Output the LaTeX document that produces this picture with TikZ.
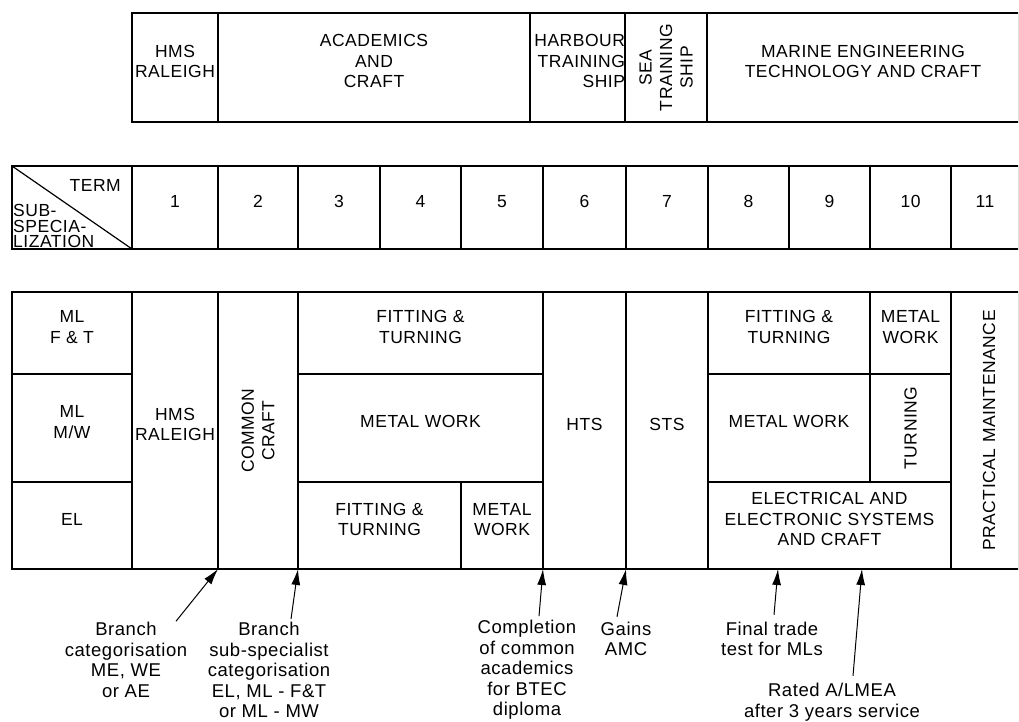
\documentclass[tikz,border=0pt]{standalone}
\usepackage{fontspec}
\setmainfont[LetterSpace=3]{Liberation Sans}
\usetikzlibrary{arrows.meta, fit}

\begin{document}
\begin{tikzpicture}[
    x=1pt, y=-1pt,
    cell/.style={rectangle, draw, line width=1.2pt, inner sep=0pt, outer sep=0pt, align=center, font=\fontsize{17.5}{20.5}\selectfont},
    upright/.style={rotate=90, inner sep=0pt, align=center, font=\fontsize{17.5}{20.5}\selectfont},
    note/.style={inner sep=0pt, align=center, font=\fontsize{18.5}{20.5}\selectfont},
    arrow/.style={-{Latex[length=16pt, width=9pt]}, line width=1pt}
]
    \useasboundingbox (0,0) rectangle (1019,722);
    \clip (0,0) rectangle (1018.2,722);

    % Phases
    \node[cell, fit={(132,13) (218,122)}] (raleigh) {HMS\\RALEIGH};
    \node[cell, fit={(218,13) (530,122)}] (academics) {ACADEMICS\\AND\\CRAFT};
    \node[cell, fit={(530,13) (625,122)}, align=right] (harbour) {HARBOUR\\TRAINING\\SHIP};
    \node[cell, fit={(625,13) (707,122)}] (seaship) {};
    \node[upright] (seatext) at (seaship.center) {SEA\\TRAINING\\SHIP};
    \node[cell, fit={(707,13) (1019,122)}] (marine) {MARINE ENGINEERING\\TECHNOLOGY AND CRAFT};

    % Terms
    \node[cell, fit={(12,166) (132,249)}] (corner) {};
    \draw[line width=1.2pt] (corner.north west) -- (corner.south east);
    \node[inner sep=0pt, anchor=east, font=\fontsize{17.5}{20.5}\selectfont] (termhead) at (121,185) {TERM};
    \node[inner sep=0pt, anchor=west, align=left, font=\fontsize{17.5}{15.5}\selectfont] (subhead) at (13,226) {SUB-\\SPECIA-\\LIZATION};
    \foreach \a/\b/\n in {132/218/1, 218/298/2, 298/380/3, 380/461/4, 461/543/5, 543/626/6,
                          626/708/7, 708/789/8, 789/870/9, 870/951/10, 951/1019/11}
        \node[cell, fit={(\a,166) (\b,249)}] (term\n) {\n};

    % Sub-specialization
    \node[cell, fit={(12,292) (132,374)}] (mlft) {ML\\F \& T};
    \node[cell, fit={(12,374) (132,482)}] (mlmw) {ML\\M/W};
    \node[cell, fit={(12,482) (132,569)}] (el) {EL};
    \node[cell, fit={(132,292) (218,569)}] (hms) {HMS\\RALEIGH};
    \node[cell, fit={(218,292) (298,569)}] (common) {};
    \node[upright] (commontext) at (common.center) {COMMON\\CRAFT};
    \node[cell, fit={(298,292) (543,374)}] (ft) {FITTING \&\\TURNING};
    \node[cell, fit={(298,374) (543,482)}] (mw) {METAL WORK};
    \node[cell, fit={(298,482) (461,569)}] (ftb) {FITTING \&\\TURNING};
    \node[cell, fit={(461,482) (543,569)}] (mwb) {METAL\\WORK};
    \node[cell, fit={(543,292) (626,569)}] (hts) {HTS};
    \node[cell, fit={(626,292) (708,569)}] (sts) {STS};
    \node[cell, fit={(708,292) (870,374)}] (ftr) {FITTING \&\\TURNING};
    \node[cell, fit={(870,292) (951,374)}] (mwr) {METAL\\WORK};
    \node[cell, fit={(708,374) (870,482)}] (mwm) {METAL WORK};
    \node[cell, fit={(870,374) (951,482)}] (turn) {};
    \node[upright] (turntext) at (turn.center) {TURNING};
    \node[cell, fit={(708,482) (951,569)}] (elec) {ELECTRICAL AND\\ELECTRONIC SYSTEMS\\AND CRAFT};
    \node[cell, fit={(951,292) (1019,569)}] (pm) {};
    \node[upright] (pmtext) at ([xshift=4pt]pm.center) {PRACTICAL MAINTENANCE};

    % Milestones
    \coordinate (tradetest) at (778,569);
    \coordinate (rated) at (862,569);
    \node[note] (branch) at (126,660) {Branch\\categorisation\\ME, WE\\or AE};
    \node[note] (subcat) at (269,670) {Branch\\sub-specialist\\categorisation\\EL, ML - F\&T\\or ML - MW};
    \node[note] (btec) at (527,670) {Completion\\of common\\academics\\for BTEC\\diploma};
    \node[note] (amc) at (626,639) {Gains\\AMC};
    \node[note] (final) at (772,639) {Final trade\\test for MLs};
    \node[note] (lmea) at (832,702) {Rated A/LMEA\\after 3 years service};

    \draw[arrow] ([xshift=50pt,yshift=1pt]branch.north) -- (hms.south east);
    \draw[arrow] ([xshift=22pt,yshift=3pt]subcat.north) -- (common.south east);
    \draw[arrow] ([xshift=12pt,yshift=4pt]btec.north) -- (hts.south west);
    \draw[arrow] ([xshift=-9pt,yshift=5pt]amc.north) -- (hts.south east);
    \draw[arrow] ([xshift=2pt,yshift=7pt]final.north) -- (tradetest);
    \draw[arrow] ([xshift=21pt,yshift=7pt]lmea.north) -- (rated);
\end{tikzpicture}
\end{document}
